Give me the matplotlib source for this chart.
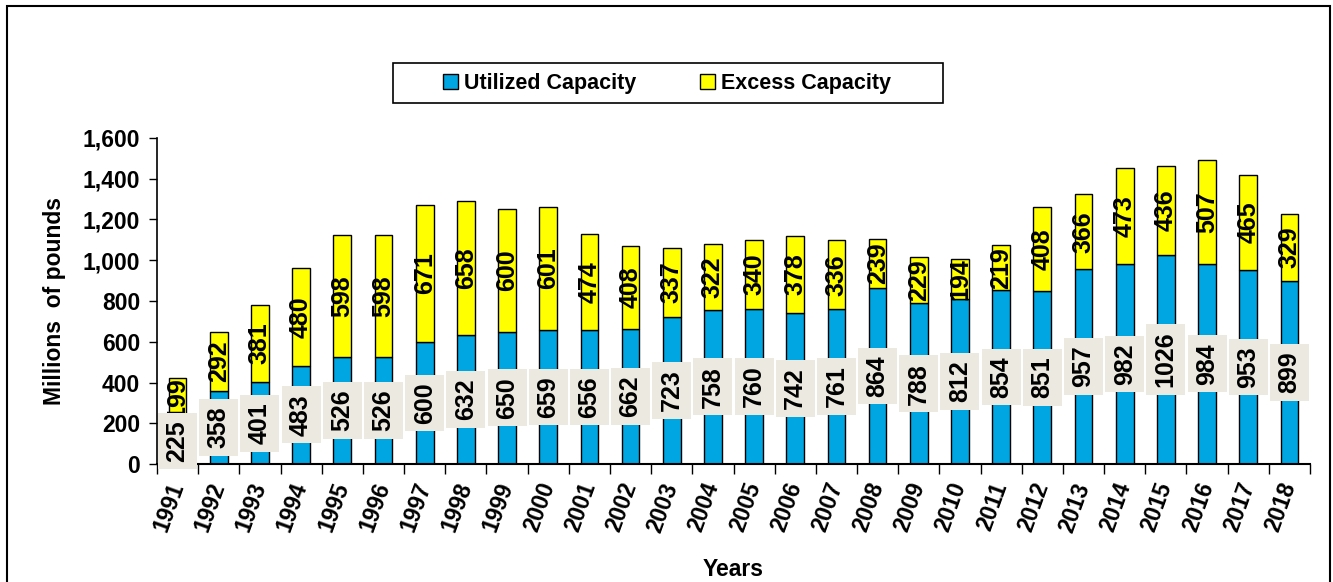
import numpy as np
import matplotlib
matplotlib.use('Agg')
import matplotlib.pyplot as plt
from matplotlib.patches import Rectangle, Patch
from matplotlib.ticker import FuncFormatter, FixedLocator

years = [str(y) for y in range(1991, 2019)]
utilized = [225, 358, 401, 483, 526, 526, 600, 632, 650, 659, 656, 662, 723, 758,
            760, 742, 761, 864, 788, 812, 854, 851, 957, 982, 1026, 984, 953, 899]
excess = [199, 292, 381, 480, 598, 598, 671, 658, 600, 601, 474, 408, 337, 322,
          340, 378, 336, 239, 229, 194, 219, 408, 366, 473, 436, 507, 465, 329]

blue = '#00A6E2'
yellow = '#FFFF00'
boxgray = '#ECEAE0'

plt.rcParams['font.family'] = ['Liberation Sans', 'DejaVu Sans']
plt.rcParams['font.weight'] = 'bold'

W, H = 1333, 582
fig = plt.figure(figsize=(W / 100, H / 100), dpi=100)
ax = fig.add_axes([157 / W, 1 - 464 / H, (1310 - 157) / W, (464 - 138) / H])

x = np.arange(len(years))
bw = 0.43
ax.bar(x, utilized, bw, color=blue, edgecolor='black', linewidth=1, zorder=2)
ax.bar(x, excess, bw, bottom=utilized, color=yellow, edgecolor='black', linewidth=1, zorder=2)

for i in range(len(years)):
    u = utilized[i]
    e = excess[i]
    ax.text(x[i], u / 2.0, str(u), rotation=90, ha='center', va='center',
            fontsize=18, fontweight='bold', zorder=4,
            bbox=dict(boxstyle='square,pad=0.3', facecolor=boxgray, edgecolor='none'))
    ax.text(x[i], u + e / 2.0, str(e), rotation=90, ha='center', va='center',
            fontsize=18, fontweight='bold', zorder=3)

ax.set_xlim(-0.5, len(years) - 0.5)
ax.set_ylim(0, 1600)
ax.set_yticks(np.arange(0, 1601, 200))
ax.yaxis.set_major_formatter(FuncFormatter(lambda v, p: '{:,.0f}'.format(v)))
ax.tick_params(axis='y', labelsize=16.5, length=6, width=1, direction='out', pad=6)

ax.set_xticks(x)
ax.set_xticklabels(years, rotation=70, fontsize=16.5, fontweight='bold',
                   rotation_mode='anchor', ha='right', va='center')
ax.xaxis.set_minor_locator(FixedLocator(np.arange(-0.5, len(years), 1.0)))
ax.tick_params(axis='x', which='major', length=0, pad=14)
ax.tick_params(axis='x', which='minor', length=7, width=1, direction='out')

for s in ['top', 'right']:
    ax.spines[s].set_visible(False)
ax.spines['left'].set_linewidth(1.2)
ax.spines['bottom'].set_linewidth(1.5)

ax.set_ylabel('Millions  of pounds', fontsize=16.5, fontweight='bold', labelpad=12)
ax.set_xlabel('Years', fontsize=16.5, fontweight='bold', labelpad=16)

# legend with a hand-drawn frame
fig.patches.append(Rectangle((393 / W, 1 - 103 / H), (943 - 393) / W, 40 / H,
                             transform=fig.transFigure, facecolor='white',
                             edgecolor='black', linewidth=1.2))
handles = [Patch(facecolor=blue, edgecolor='black', label='Utilized Capacity'),
           Patch(facecolor=yellow, edgecolor='black', label='Excess Capacity')]
fig.legend(handles=handles, loc='center', bbox_to_anchor=(667 / W, 1 - 84 / H),
           ncol=2, frameon=False, handlelength=0.7, handleheight=0.7,
           handletextpad=0.3, columnspacing=2.95, prop={'weight': 'bold', 'size': 15.5})

# outer frame of the figure
fig.patches.append(Rectangle((6.5 / W, -0.05), (1330 - 6.5) / W, 1.05 - 5.5 / H,
                             transform=fig.transFigure, facecolor='none',
                             edgecolor='black', linewidth=1.5, zorder=0))

fig.savefig('out.png', dpi=100)
